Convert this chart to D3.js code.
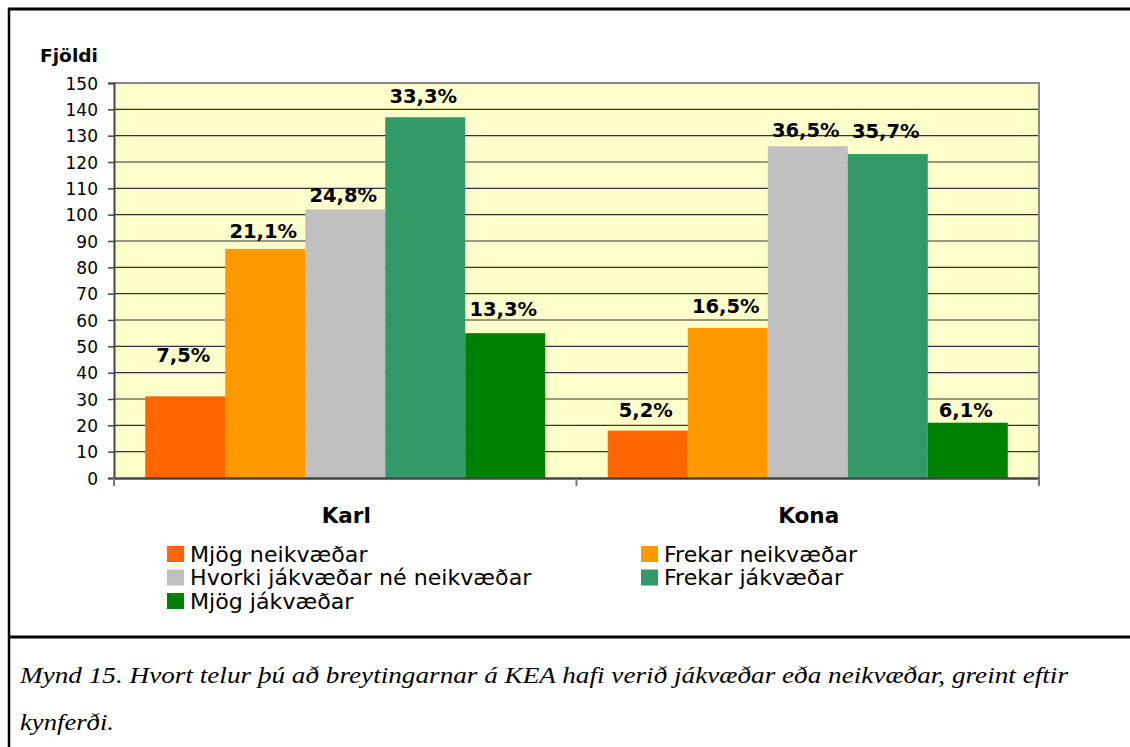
<!DOCTYPE html>
<html>
<head>
<meta charset="utf-8">
<script src="https://cdnjs.cloudflare.com/ajax/libs/d3/7.8.5/d3.min.js"></script>
<style>
  html, body { margin: 0; padding: 0; background: #ffffff; }
  svg { display: block; }
  .sans { font-family: 'DejaVu Sans', 'Liberation Sans', sans-serif; }
  .serif { font-family: 'Liberation Serif', 'Times New Roman', serif; }
</style>
</head>
<body>
<svg id="chart" width="1130" height="747"></svg>
<script>
// ---- Data ----
const categories = ["Karl", "Kona"];
const seriesNames = ["Mjög neikvæðar", "Frekar neikvæðar", "Hvorki jákvæðar né neikvæðar", "Frekar jákvæðar", "Mjög jákvæðar"];
const karlValues = [31, 87, 102, 137, 55];
const konaValues = [18, 57, 126, 123, 21];
const karlLabels = ["7,5%", "21,1%", "24,8%", "33,3%", "13,3%"];
const konaLabels = ["5,2%", "16,5%", "36,5%", "35,7%", "6,1%"];
const yTicks = [0, 10, 20, 30, 40, 50, 60, 70, 80, 90, 100, 110, 120, 130, 140, 150];
const yTitle = "Fjöldi";
const captionLine1 = "Mynd 15.  Hvort telur þú að breytingarnar á KEA hafi verið jákvæðar eða neikvæðar, greint  eftir";
const captionLine2 = "kynferði.";

// ---- Styles / layout ----
const colors = ["#FF6600", "#FF9900", "#C0C0C0", "#339966", "#008000"];
const labelLift = [[34, 11, 7, 14, 17], [14, 15, 9, 16, 6]];
const plot = { left: 114, right: 1039, top: 83, bottom: 478 };

const svg = d3.select("#chart");
const values = [karlValues, konaValues];
const labels = [karlLabels, konaLabels];

// Frame
svg.append("line").attr("x1", 8).attr("x2", 1130).attr("y1", 9).attr("y2", 9)
  .attr("stroke", "#000").attr("stroke-width", 3);
svg.append("line").attr("x1", 9).attr("x2", 9).attr("y1", 8).attr("y2", 747)
  .attr("stroke", "#000").attr("stroke-width", 2.5);
svg.append("line").attr("x1", 8).attr("x2", 1130).attr("y1", 637).attr("y2", 637)
  .attr("stroke", "#000").attr("stroke-width", 3);

// Scales
const x0 = d3.scaleBand().domain(categories).range([plot.left, plot.right]).paddingInner(0.135).paddingOuter(0.0675);
const x1 = d3.scaleBand().domain(seriesNames).range([0, x0.bandwidth()]).padding(0);
const y = d3.scaleLinear().domain([0, 150]).range([plot.bottom, plot.top]);

// Plot background
svg.append("rect").attr("x", plot.left).attr("y", plot.top)
  .attr("width", plot.right - plot.left).attr("height", plot.bottom - plot.top)
  .attr("fill", "#FFFFCC");

// Gridlines
svg.append("g").selectAll("line").data(yTicks.filter(d => d > 0)).join("line")
  .attr("x1", plot.left).attr("x2", plot.right)
  .attr("y1", d => y(d)).attr("y2", d => y(d))
  .attr("stroke", "#333").attr("stroke-width", 1.2);

// Plot border (top/right gray)
svg.append("path")
  .attr("d", `M${plot.left},${plot.top}H${plot.right}V${plot.bottom}`)
  .attr("fill", "none").attr("stroke", "#888").attr("stroke-width", 2);

// Bars
const groups = svg.append("g").selectAll("g").data(categories).join("g")
  .attr("transform", d => `translate(${x0(d)},0)`);
groups.selectAll("rect").data((c, ci) => values[ci].map((v, si) => ({ v, si })))
  .join("rect")
  .attr("x", d => x1(seriesNames[d.si]))
  .attr("width", x1.bandwidth())
  .attr("y", d => y(d.v))
  .attr("height", d => y(0) - y(d.v))
  .attr("fill", d => colors[d.si]);

// Value labels
groups.each(function (c, ci) {
  d3.select(this).selectAll("text").data(values[ci].map((v, si) => ({ v, si })))
    .join("text")
    .attr("class", "sans")
    .attr("x", d => x1(seriesNames[d.si]) + x1.bandwidth() / 2 - 2)
    .attr("y", d => y(d.v) - labelLift[ci][d.si])
    .attr("text-anchor", "middle")
    .attr("font-weight", "bold")
    .attr("font-size", 19.5)
    .attr("fill", "#000")
    .text(d => labels[ci][d.si]);
});

// Y axis
const yAxis = svg.append("g").attr("transform", `translate(${plot.left},0)`)
  .call(d3.axisLeft(y).tickValues(yTicks).tickSize(6).tickPadding(10).tickFormat(d3.format("d")));
yAxis.attr("font-family", null);
yAxis.select(".domain").attr("stroke", "#444").attr("stroke-width", 2);
yAxis.selectAll(".tick line").attr("stroke", "#444").attr("stroke-width", 1.5);
yAxis.selectAll(".tick text")
  .attr("class", "sans")
  .attr("font-size", 17).attr("fill", "#000").attr("dy", "0.36em");

// X axis
const xAxis = svg.append("g").attr("transform", `translate(0,${plot.bottom})`)
  .call(d3.axisBottom(x0).tickSize(0).tickFormat(""));
xAxis.select(".domain").attr("stroke", "#444").attr("stroke-width", 2.5);
const sepX = [plot.left, (x0(categories[0]) + x0.bandwidth() + x0(categories[1])) / 2, plot.right];
svg.append("g").selectAll("line").data(sepX).join("line")
  .attr("x1", d => d).attr("x2", d => d)
  .attr("y1", plot.bottom).attr("y2", plot.bottom + 8)
  .attr("stroke", "#777").attr("stroke-width", 2);

// Category labels
svg.append("g").selectAll("text").data(categories).join("text")
  .attr("class", "sans")
  .attr("x", d => x0(d) + x0.bandwidth() / 2 + 1)
  .attr("y", 523)
  .attr("text-anchor", "middle")
  .attr("font-weight", "bold").attr("font-size", 21.5)
  .text(d => d);

// Y title
svg.append("text").attr("class", "sans").attr("x", 40).attr("y", 62)
  .attr("font-weight", "bold").attr("font-size", 18.5)
  .attr("textLength", 58).attr("lengthAdjust", "spacingAndGlyphs")
  .text(yTitle);

// Legend
const legendCols = [167, 641];
const legendRowY = [546, 569.5, 593];
const legend = svg.append("g").selectAll("g").data(seriesNames).join("g")
  .attr("transform", (d, i) => `translate(${legendCols[i % 2]},${legendRowY[Math.floor(i / 2)]})`);
legend.append("rect").attr("width", 17).attr("height", 16).attr("fill", (d, i) => colors[i]);
legend.append("text").attr("class", "sans").attr("x", 23).attr("y", 15.5)
  .attr("font-size", 20.5).attr("fill", "#000")
  .attr("transform", "scale(1.08,1)")
  .attr("x", 21.3)
  .text(d => d);

// Caption
svg.append("text").attr("class", "serif").attr("x", 20).attr("y", 683)
  .attr("font-style", "italic").attr("font-size", 24)
  .attr("textLength", 1048).attr("lengthAdjust", "spacingAndGlyphs")
  .text(captionLine1);
svg.append("text").attr("class", "serif").attr("x", 20).attr("y", 730)
  .attr("font-style", "italic").attr("font-size", 24)
  .attr("textLength", 94).attr("lengthAdjust", "spacingAndGlyphs")
  .text(captionLine2);
</script>
</body>
</html>
